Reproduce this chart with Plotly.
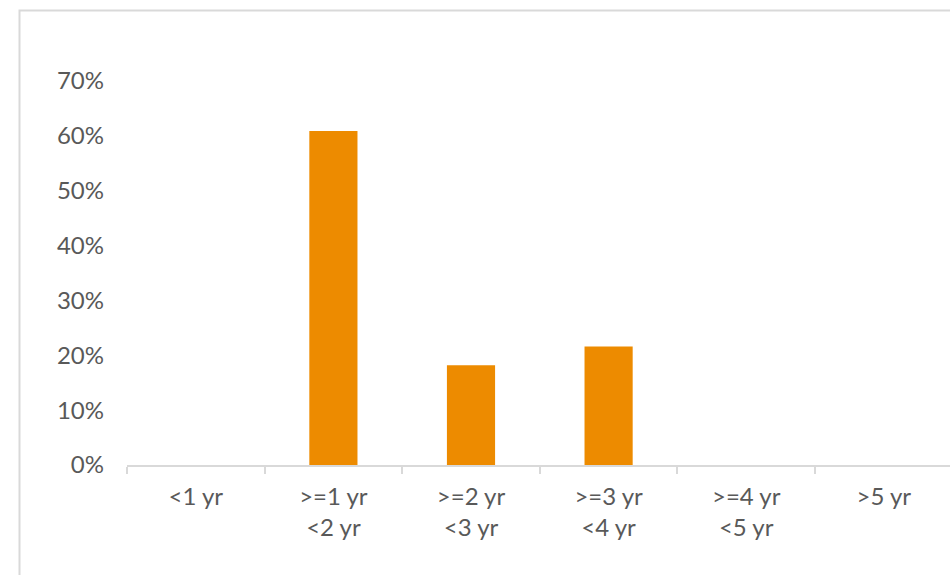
import plotly.graph_objects as go

categories = ["<1 yr", ">=1 yr<br><2 yr", ">=2 yr<br><3 yr", ">=3 yr<br><4 yr", ">=4 yr<br><5 yr", ">5 yr"]
values = [0.0, 0.609, 0.182, 0.216, 0.0, 0.0]
y_ticks = [0, 0.1, 0.2, 0.3, 0.4, 0.5, 0.6, 0.7]

W, H = 950, 575
L, R, T, B = 127, 0, 81, 110
pw = W - L - R
ph = H - T - B

fig = go.Figure(go.Bar(
    x=categories, y=values, width=0.35,
    marker=dict(color="#ED8B00", line=dict(width=0)),
))

font = dict(family="Lato, Open Sans, sans-serif", size=24, color="#595959")

fig.update_layout(
    width=W, height=H,
    margin=dict(l=L, r=R, t=T, b=B, pad=0),
    paper_bgcolor="white", plot_bgcolor="white",
    font=font, showlegend=False,
    xaxis=dict(
        type="category", range=[-0.5, 5.5 - 2.6 / 137.6],
        showline=True, linecolor="#D9D9D9", linewidth=2,
        ticks="outside", tickson="boundaries", ticklen=7, tickcolor="#D9D9D9", tickwidth=2,
        showgrid=False, zeroline=False, tickfont=font, ticklabelstandoff=9,
    ),
    yaxis=dict(
        range=[0, 0.7], tickvals=y_ticks, tickformat=".0%",
        showline=False, showgrid=False, zeroline=False,
        ticks="", ticklabelstandoff=22, tickfont=font,
    ),
    shapes=[dict(
        type="rect", xref="paper", yref="paper",
        x0=(19.5 - L) / pw, x1=1.05,
        y0=-(H + 20 - (T + ph)) / ph, y1=1 + (T - 10.5) / ph,
        line=dict(color="#D9D9D9", width=2), fillcolor="rgba(0,0,0,0)", layer="below",
    )],
)

fig.write_html("out.html")
